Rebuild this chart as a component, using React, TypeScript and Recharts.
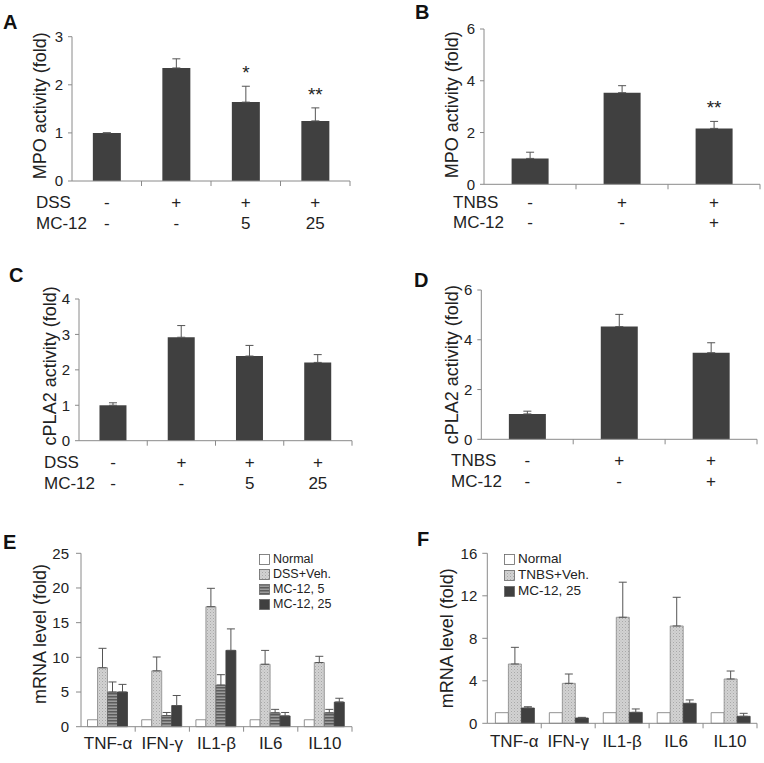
import { BarChart, Bar, XAxis, YAxis, ErrorBar, LabelList, Legend } from "recharts";

const FONT = "'Liberation Sans', Arial, sans-serif";
const AXIS = "#8a8a8a";
const TEXT = "#222";
const DARK = "#404040";

// panel A - MPO, DSS model
const aDss = ["-", "+", "+", "+"];
const aMc12 = ["-", "-", "5", "25"];
const aMpo = [1.0, 2.35, 1.64, 1.25];
const aMpoErr = [0.0, 0.19, 0.33, 0.27];
const aSig = ["", "", "*", "**"];

// panel B - MPO, TNBS model
const bTnbs = ["-", "+", "+"];
const bMc12 = ["-", "-", "+"];
const bMpo = [1.0, 3.54, 2.16];
const bMpoErr = [0.24, 0.27, 0.27];
const bSig = ["", "", "**"];

// panel C - cPLA2, DSS model
const cDss = ["-", "+", "+", "+"];
const cMc12 = ["-", "-", "5", "25"];
const cPla2 = [1.0, 2.92, 2.39, 2.21];
const cPla2Err = [0.07, 0.33, 0.3, 0.22];

// panel D - cPLA2, TNBS model
const dTnbs = ["-", "+", "+"];
const dMc12 = ["-", "-", "+"];
const dPla2 = [1.02, 4.53, 3.48];
const dPla2Err = [0.11, 0.49, 0.4];

// panel E - cytokine mRNA, DSS
const cytokines = ["TNF-α", "IFN-γ", "IL1-β", "IL6", "IL10"];
const eNormal = [1, 1, 1, 1, 1];
const eDssVeh = [8.5, 8.05, 17.3, 9.0, 9.25];
const eDssVehErr = [2.8, 2.0, 2.65, 2.0, 0.9];
const eMc5 = [5.0, 1.6, 6.0, 2.0, 2.0];
const eMc5Err = [1.45, 0.45, 1.5, 0.5, 0.5];
const eMc25 = [5.0, 3.05, 11.0, 1.55, 3.55];
const eMc25Err = [1.1, 1.45, 3.1, 0.5, 0.55];

// panel F - cytokine mRNA, TNBS
const fNormal = [1, 1, 1, 1, 1];
const fTnbsVeh = [5.58, 3.76, 9.98, 9.16, 4.17];
const fTnbsVehErr = [1.57, 0.88, 3.3, 2.7, 0.75];
const fMc25 = [1.44, 0.5, 1.03, 1.88, 0.66];
const fMc25Err = [0.12, 0.06, 0.32, 0.32, 0.28];

type Box = { x: number; y: number; w: number; h: number };
type Plot = { l: number; r: number; t: number; b: number };

function PanelLetter({ x, y, ch }: { x: number; y: number; ch: string }) {
  return (
    <div style={{ position: "absolute", left: x, top: y, fontFamily: FONT, fontWeight: "bold", fontSize: 20, lineHeight: 1, color: "#111" }}>
      {ch}
    </div>
  );
}

function yTitle(text: string, x: number, plot: Plot, dy: number) {
  const cy = (plot.t + plot.b) / 2 + dy;
  return () => (
    <text x={x} y={cy} transform={`rotate(-90 ${x} ${cy})`} textAnchor="middle" dominantBaseline="central" fontSize={18} fill={TEXT} fontFamily={FONT}>
      {text}
    </text>
  );
}

type SimpleProps = {
  box: Box;
  plot: Plot;
  values: number[];
  errs: number[];
  sig?: string[];
  row1Name: string;
  row1: string[];
  row2Name: string;
  row2: string[];
  rowX: number;
  rowDy: [number, number];
  yMax: number;
  yTicks: number[];
  title: string;
  titleX: number;
  titleDy: number;
};

function SimplePanel(p: SimpleProps) {
  const data = p.values.map((v, i) => ({
    name: `${p.row1[i]}/${p.row2[i]}/${i}`,
    value: v,
    err: [0, p.errs[i]],
    sig: p.sig ? p.sig[i] : "",
  }));
  const step = (p.plot.r - p.plot.l) / p.values.length;

  const tick = (t: any) => {
    const { x, y, index, payload } = t;
    const off = payload && typeof payload.offset === "number" && payload.offset > 0 ? payload.offset : step / 2;
    return (
      <g fontFamily={FONT} fill={TEXT} fontSize={17}>
        <line x1={x + off} x2={x + off} y1={y} y2={y + 5} stroke={AXIS} />
        {index === 0 && (
          <>
            <text x={p.rowX} y={y + p.rowDy[0]} dominantBaseline="central" fill={TEXT}>{p.row1Name}</text>
            <text x={p.rowX} y={y + p.rowDy[1]} dominantBaseline="central" fill={TEXT}>{p.row2Name}</text>
          </>
        )}
        <text x={x} y={y + p.rowDy[0]} textAnchor="middle" dominantBaseline="central" fill={TEXT}>{p.row1[index]}</text>
        <text x={x} y={y + p.rowDy[1]} textAnchor="middle" dominantBaseline="central" fill={TEXT}>{p.row2[index]}</text>
      </g>
    );
  };

  const star = (lp: any) => {
    const { index, value } = lp;
    if (!value) return null;
    const vb = lp.viewBox ?? lp;
    const bx = Number(vb.x), by = Number(vb.y), bw = Number(vb.width), bh = Number(vb.height);
    const perUnit = bh / p.values[index];
    const errTop = by - p.errs[index] * perUnit;
    return (
      <text x={bx + bw / 2} y={errTop - 7} textAnchor="middle" fontSize={19} fill={TEXT} fontFamily={FONT}>
        {value}
      </text>
    );
  };

  return (
    <div style={{ position: "absolute", left: p.box.x, top: p.box.y }}>
      <BarChart
        width={p.box.w}
        height={p.box.h}
        data={data}
        barCategoryGap="30%"
        margin={{ top: p.plot.t, right: p.box.w - p.plot.r, left: 0, bottom: p.box.h - p.plot.b - 50 }}
      >
        <XAxis dataKey="name" height={50} interval={0} axisLine={{ stroke: AXIS }} tickLine={false} tickSize={0} tickMargin={0} tick={tick} />
        <YAxis
          width={p.plot.l}
          domain={[0, p.yMax]}
          ticks={p.yTicks}
          tickSize={4}
          tickMargin={5}
          axisLine={{ stroke: AXIS }}
          tickLine={{ stroke: AXIS }}
          tick={{ fontSize: 15, fill: TEXT, fontFamily: FONT }}
          label={{ content: yTitle(p.title, p.titleX, p.plot, p.titleDy) }}
        />
        <Bar dataKey="value" fill={DARK} isAnimationActive={false}>
          <ErrorBar dataKey="err" direction="y" width={4} stroke="#555" strokeWidth={1} />
          {p.sig && <LabelList dataKey="sig" content={star} />}
        </Bar>
      </BarChart>
    </div>
  );
}

type Series = { key: string; name: string; values: number[]; errs?: number[]; fill: string; stroke: string };

type GroupProps = {
  box: Box;
  plot: Plot;
  series: Series[];
  gap: string;
  yMax: number;
  yTicks: number[];
  tickSize: number;
  tickMargin: number;
  title: string;
  titleX: number;
  titleDy: number;
  labelDy: number;
  legend: { x: number; y: number; row: number; font: number };
};

function GroupPanel(p: GroupProps) {
  const data = cytokines.map((c, i) => {
    const row: any = { name: c };
    p.series.forEach((s) => {
      row[s.key] = s.values[i];
      if (s.errs) row[s.key + "Err"] = [0, s.errs[i]];
    });
    return row;
  });
  const step = (p.plot.r - p.plot.l) / cytokines.length;

  const tick = (t: any) => {
    const { x, y, payload } = t;
    const off = payload && typeof payload.offset === "number" && payload.offset > 0 ? payload.offset : step / 2;
    return (
      <g>
        <line x1={x + off} x2={x + off} y1={y} y2={y + 5} stroke={AXIS} />
        <text x={x} y={y + p.labelDy} textAnchor="middle" dominantBaseline="central" fontSize={17} fill={TEXT} fontFamily={FONT}>
          {payload.value}
        </text>
      </g>
    );
  };

  // keep the series order of the original legend
  const legendContent = () => (
    <div style={{ fontFamily: FONT, fontSize: p.legend.font, lineHeight: 1, color: TEXT }}>
      {p.series.map((s) => (
        <div key={s.key} style={{ height: p.legend.row, display: "flex", alignItems: "center", whiteSpace: "nowrap", lineHeight: 1 }}>
          <svg width={11} height={11} style={{ marginRight: 3 }}>
            <rect x={0.5} y={0.5} width={10} height={10} fill={s.fill} stroke="#666" strokeWidth={0.8} />
          </svg>
          <span style={{ lineHeight: 1 }}>{s.name}</span>
        </div>
      ))}
    </div>
  );

  return (
    <div style={{ position: "absolute", left: p.box.x, top: p.box.y }}>
      <BarChart
        width={p.box.w}
        height={p.box.h}
        data={data}
        barCategoryGap={p.gap}
        barGap={0}
        margin={{ top: p.plot.t, right: p.box.w - p.plot.r, left: 0, bottom: p.box.h - p.plot.b - 30 }}
      >
        <XAxis dataKey="name" height={30} interval={0} axisLine={{ stroke: AXIS }} tickLine={false} tickSize={0} tickMargin={0} tick={tick} />
        <YAxis
          width={p.plot.l}
          domain={[0, p.yMax]}
          ticks={p.yTicks}
          tickSize={p.tickSize}
          tickMargin={p.tickMargin}
          axisLine={{ stroke: AXIS }}
          tickLine={{ stroke: AXIS }}
          tick={{ fontSize: 15, fill: TEXT, fontFamily: FONT }}
          label={{ content: yTitle(p.title, p.titleX, p.plot, p.titleDy) }}
        />
        <Legend
          layout="vertical"
          align="center"
          verticalAlign="middle"
          content={legendContent}
          wrapperStyle={{ left: p.legend.x, top: p.legend.y, width: "auto", height: "auto" }}
        />
        {p.series.map((s) => (
          <Bar key={s.key} dataKey={s.key} name={s.name} fill={s.fill} stroke={s.stroke} strokeWidth={0.8} isAnimationActive={false}>
            {s.errs && <ErrorBar dataKey={s.key + "Err"} direction="y" width={4} stroke="#555" strokeWidth={1} />}
          </Bar>
        ))}
      </BarChart>
    </div>
  );
}

function Patterns() {
  return (
    <svg width={0} height={0} style={{ position: "absolute" }}>
      <defs>
        <pattern id="stipple" width={3} height={3} patternUnits="userSpaceOnUse">
          <rect width={3} height={3} fill="#d2d2d2" />
          <rect x={0} y={0} width={1} height={1} fill="#a8a8a8" />
          <rect x={1.5} y={1.5} width={1} height={1} fill="#bdbdbd" />
        </pattern>
        <pattern id="stripes" width={3} height={3} patternUnits="userSpaceOnUse">
          <rect width={3} height={3} fill="#9c9c9c" />
          <rect x={0} y={0} width={3} height={1.5} fill="#5c5c5c" />
        </pattern>
      </defs>
    </svg>
  );
}

export default function App() {
  const eSeries: Series[] = [
    { key: "normal", name: "Normal", values: eNormal, fill: "#ffffff", stroke: "#777" },
    { key: "veh", name: "DSS+Veh.", values: eDssVeh, errs: eDssVehErr, fill: "url(#stipple)", stroke: "#888" },
    { key: "mc5", name: "MC-12, 5", values: eMc5, errs: eMc5Err, fill: "url(#stripes)", stroke: "#666" },
    { key: "mc25", name: "MC-12, 25", values: eMc25, errs: eMc25Err, fill: DARK, stroke: DARK },
  ];
  const fSeries: Series[] = [
    { key: "normal", name: "Normal", values: fNormal, fill: "#ffffff", stroke: "#777" },
    { key: "veh", name: "TNBS+Veh.", values: fTnbsVeh, errs: fTnbsVehErr, fill: "url(#stipple)", stroke: "#888" },
    { key: "mc25", name: "MC-12, 25", values: fMc25, errs: fMc25Err, fill: DARK, stroke: DARK },
  ];

  return (
    <div style={{ position: "absolute", left: 0, top: 0, width: 764, height: 763, background: "#fff", fontFamily: FONT }}>
      <Patterns />

      <PanelLetter x={3} y={12} ch="A" />
      <SimplePanel
        box={{ x: 0, y: 0, w: 382, h: 250 }}
        plot={{ l: 72, r: 350, t: 36.7, b: 181 }}
        values={aMpo}
        errs={aMpoErr}
        sig={aSig}
        row1Name="DSS"
        row1={aDss}
        row2Name="MC-12"
        row2={aMc12}
        rowX={36}
        rowDy={[21, 42]}
        yMax={3}
        yTicks={[0, 1, 2, 3]}
        title="MPO activity (fold)"
        titleX={40}
        titleDy={-3}
      />

      <PanelLetter x={415} y={2} ch="B" />
      <SimplePanel
        box={{ x: 382, y: 0, w: 382, h: 250 }}
        plot={{ l: 102, r: 378, t: 29, b: 184.3 }}
        values={bMpo}
        errs={bMpoErr}
        sig={bSig}
        row1Name="TNBS"
        row1={bTnbs}
        row2Name="MC-12"
        row2={bMc12}
        rowX={71}
        rowDy={[18, 38]}
        yMax={6}
        yTicks={[0, 2, 4, 6]}
        title="MPO activity (fold)"
        titleX={70}
        titleDy={-2}
      />

      <PanelLetter x={9} y={265} ch="C" />
      <SimplePanel
        box={{ x: 0, y: 250, w: 382, h: 260 }}
        plot={{ l: 79, r: 352, t: 49, b: 190.7 }}
        values={cPla2}
        errs={cPla2Err}
        row1Name="DSS"
        row1={cDss}
        row2Name="MC-12"
        row2={cMc12}
        rowX={44}
        rowDy={[22, 42.3]}
        yMax={4}
        yTicks={[0, 1, 2, 3, 4]}
        title="cPLA2 activity (fold)"
        titleX={50}
        titleDy={-4}
      />

      <PanelLetter x={414} y={270} ch="D" />
      <SimplePanel
        box={{ x: 382, y: 250, w: 382, h: 260 }}
        plot={{ l: 99.3, r: 375, t: 40, b: 189.3 }}
        values={dPla2}
        errs={dPla2Err}
        row1Name="TNBS"
        row1={dTnbs}
        row2Name="MC-12"
        row2={dMc12}
        rowX={69}
        rowDy={[21.4, 42.4]}
        yMax={6}
        yTicks={[0, 2, 4, 6]}
        title="cPLA2 activity (fold)"
        titleX={70}
        titleDy={0}
      />

      <PanelLetter x={3} y={532} ch="E" />
      <GroupPanel
        box={{ x: 0, y: 510, w: 382, h: 253 }}
        plot={{ l: 81, r: 352, t: 43.3, b: 216.7 }}
        series={eSeries}
        gap="12%"
        yMax={25}
        yTicks={[0, 5, 10, 15, 20, 25]}
        tickSize={5}
        tickMargin={7}
        title="mRNA level (fold)"
        titleX={40}
        titleDy={-6}
        labelDy={16.7}
        legend={{ x: 259, y: 41.5, row: 15, font: 12.5 }}
      />

      <PanelLetter x={417} y={529} ch="F" />
      <GroupPanel
        box={{ x: 382, y: 510, w: 382, h: 253 }}
        plot={{ l: 105.3, r: 375, t: 43.3, b: 213.3 }}
        series={fSeries}
        gap="15%"
        yMax={16}
        yTicks={[0, 4, 8, 12, 16]}
        tickSize={5}
        tickMargin={5}
        title="mRNA level (fold)"
        titleX={65}
        titleDy={0}
        labelDy={18.4}
        legend={{ x: 122, y: 41, row: 16, font: 13.5 }}
      />
    </div>
  );
}
